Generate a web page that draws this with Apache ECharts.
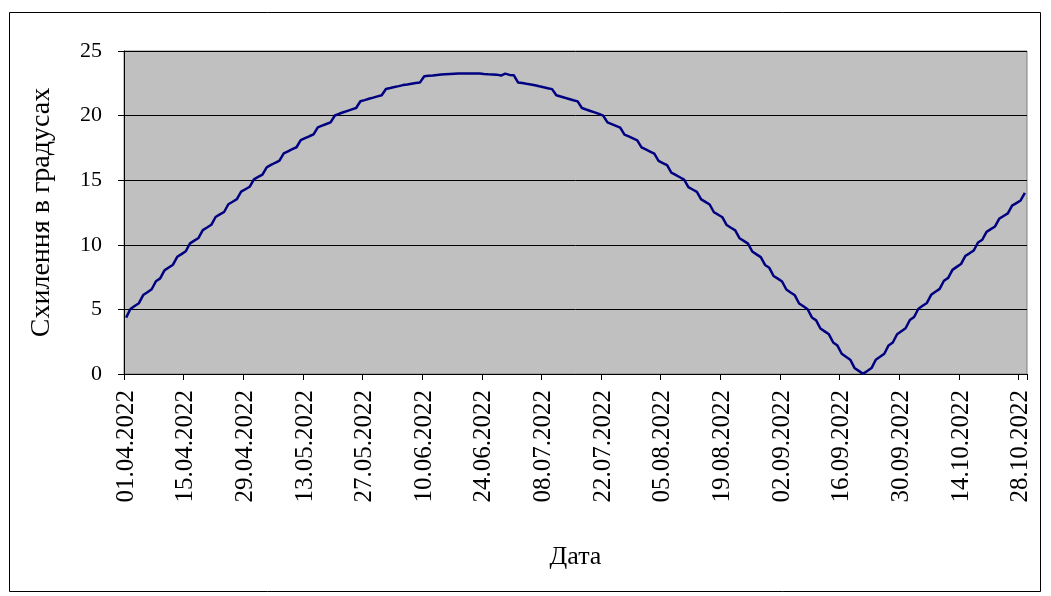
<!DOCTYPE html>
<html>
<head>
<meta charset="utf-8">
<script src="https://cdn.jsdelivr.net/npm/echarts@6/dist/echarts.min.js"></script>
<style>
html,body{margin:0;padding:0;background:#fff;}
#chart{width:1051px;height:596px;}
</style>
</head>
<body>
<div id="chart"></div>
<script>
// Category range: daily dates from 01.04.2022, one per value
const startDate = [2022, 4, 1];
// Solar declination (absolute), degrees.minutes
const declination = [
4.36,5.03,5.26,5.48,6.11,6.33,6.56,7.18,7.40,8.02,
8.24,8.46,9.07,9.28,9.50,10.11,10.32,10.53,11.14,11.34,
11.55,12.15,12.35,12.54,13.14,13.33,13.53,14.11,14.30,14.49,
15.07,15.25,15.43,16.00,16.18,16.35,16.51,17.08,17.24,17.40,
17.55,18.10,18.25,18.40,18.54,19.09,19.22,19.35,19.48,20.01,
20.14,20.26,20.37,20.48,20.59,21.11,21.20,21.30,21.39,21.49,
21.58,22.06,22.13,22.21,22.28,22.36,22.41,22.47,22.52,22.57,
23.05,23.08,23.10,23.15,23.18,23.20,23.22,23.24,23.25,23.26,
23.26,23.26,23.26,23.25,23.22,23.20,23.19,23.17,23.10,23.25,
23.15,23.13,22.57,22.52,22.46,22.41,22.35,22.27,22.20,22.12,
22.05,21.57,21.48,21.38,21.29,21.19,21.10,20.59,20.47,20.36,
20.25,20.13,20.00,19.47,19.34,19.21,19.07,18.53,18.39,18.24,
18.09,17.54,17.38,17.22,17.06,16.50,16.33,16.16,15.59,15.41,
15.23,15.05,14.47,14.28,14.10,13.51,13.32,13.12,12.52,12.33,
12.13,11.53,11.32,11.12,10.51,10.30,10.09,9.48,9.26,9.05,
8.44,8.22,7.59,7.38,7.16,6.54,6.31,6.09,5.46,5.24,
5.01,4.38,4.15,3.52,3.30,3.07,2.44,2.20,1.57,1.34,
1.11,0.47,0.24,0.01,0.23,0.46,1.10,1.33,1.57,2.21,
2.44,3.08,3.31,3.54,4.18,4.41,5.05,5.28,5.50,6.13,
6.36,6.59,7.22,7.44,8.06,8.29,8.51,9.13,9.34,9.56,
10.18,10.39,11.00,11.21,11.42,12.03,12.23,12.43,13.03,13.23,
13.43,14.02
];
const yTicks = [0, 5, 10, 15, 20, 25];
const yTitle = 'Схилення в градусах';
const xTitle = 'Дата';

function pad(n){ return (n < 10 ? '0' : '') + n; }
const categories = [];
{
  const d = new Date(Date.UTC(startDate[0], startDate[1] - 1, startDate[2]));
  for (let i = 0; i < declination.length; i++) {
    categories.push(pad(d.getUTCDate()) + '.' + pad(d.getUTCMonth() + 1) + '.' + d.getUTCFullYear());
    d.setUTCDate(d.getUTCDate() + 1);
  }
}

const FONT = '"Liberation Serif", "Times New Roman", serif';
const chart = echarts.init(document.getElementById('chart'), null, {renderer: 'canvas'});
chart.setOption({
  animation: false,
  backgroundColor: '#ffffff',
  graphic: [{
    type: 'rect',
    shape: {x: 9.5, y: 12.5, width: 1031, height: 579},
    style: {fill: 'none', stroke: '#000000', lineWidth: 1},
    z: -10
  }],
  grid: {
    left: 124, top: 51, right: 24, bottom: 222,
    show: true, backgroundColor: '#C0C0C0', borderColor: '#808080', borderWidth: 1
  },
  xAxis: {
    type: 'category',
    data: categories,
    boundaryGap: true,
    name: xTitle,
    nameLocation: 'middle',
    nameGap: 170,
    nameTextStyle: {fontFamily: FONT, fontSize: 26, color: '#000'},
    axisLine: {show: true, lineStyle: {color: '#000', width: 1}},
    axisTick: {show: true, interval: 13, length: 6, lineStyle: {color: '#000'}},
    axisLabel: {
      interval: 13, rotate: 90, margin: 16,
      fontFamily: FONT, fontSize: 25, color: '#000'
    },
    splitLine: {show: false}
  },
  yAxis: {
    type: 'value',
    min: yTicks[0], max: yTicks[yTicks.length - 1], interval: 5,
    name: yTitle,
    nameLocation: 'middle',
    nameRotate: 90,
    nameGap: 68,
    nameTextStyle: {fontFamily: FONT, fontSize: 28, color: '#000'},
    axisLine: {show: true, lineStyle: {color: '#000', width: 1}},
    axisTick: {show: true, length: 6, lineStyle: {color: '#000'}},
    axisLabel: {margin: 22, fontFamily: FONT, fontSize: 22, color: '#000'},
    splitLine: {show: true, lineStyle: {color: '#000', width: 1}}
  },
  series: [{
    type: 'line',
    data: declination,
    symbol: 'none',
    smooth: false,
    lineStyle: {color: '#000080', width: 2.5},
    z: 5
  }]
});
</script>
</body>
</html>
